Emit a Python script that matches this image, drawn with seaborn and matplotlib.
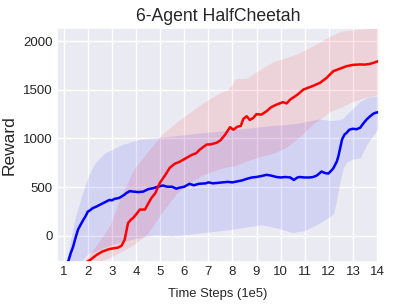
import numpy as np
import pandas as pd
import matplotlib
matplotlib.use("Agg")
import matplotlib.pyplot as plt
import seaborn as sns

# ---- data ----
title = "6-Agent HalfCheetah"
xlabel = "Time Steps (1e5)"
ylabel = "Reward"
xticks = list(range(1, 15))
yticks = [0, 500, 1000, 1500, 2000]

blue_x = [1.15, 1.2, 1.3, 1.39, 1.5, 1.6, 1.66, 1.8, 1.9, 2.0, 2.1, 2.2, 2.36, 2.5, 2.7, 2.9,
          3.0, 3.1, 3.3, 3.5, 3.6, 3.74, 3.9, 4.1, 4.3, 4.5, 4.71, 4.9, 5.12, 5.3, 5.5, 5.67,
          5.8, 6.0, 6.22, 6.4, 6.6, 6.9, 7.0, 7.19, 7.4, 7.6, 7.8, 8.0, 8.2, 8.4, 8.58, 8.8,
          9.0, 9.2, 9.42, 9.6, 9.83, 10.0, 10.2, 10.4, 10.55, 10.7, 10.8, 11.0, 11.2, 11.35,
          11.5, 11.7, 11.85, 11.98, 12.1, 12.19, 12.33, 12.4, 12.47, 12.55, 12.65, 12.74,
          12.85, 13.0, 13.15, 13.3, 13.45, 13.57, 13.7, 13.85, 13.95, 14.06]
blue_y = [-290, -250, -170, -110, -10, 70, 97, 160, 200, 250, 265, 285, 302, 320, 345, 370,
          365, 380, 390, 420, 440, 460, 455, 450, 455, 480, 490, 505, 518, 505, 505, 485,
          495, 505, 535, 520, 535, 540, 550, 540, 545, 550, 555, 550, 560, 570, 585, 600,
          605, 615, 627, 620, 605, 600, 605, 600, 575, 600, 605, 600, 600, 605,
          620, 661, 645, 640, 670, 695, 763, 820, 900, 990, 1040, 1058,
          1090, 1100, 1095, 1110, 1160, 1195, 1225, 1255, 1265, 1270]

red_x = [1.94, 2.1, 2.36, 2.6, 2.91, 3.1, 3.25, 3.4, 3.53, 3.6, 3.67, 3.8, 3.88, 4.0, 4.16,
         4.37, 4.5, 4.64, 4.8, 4.99, 5.2, 5.4, 5.6, 5.8, 6.1, 6.3, 6.5, 6.65, 6.93, 7.1, 7.34,
         7.5, 7.7, 7.9, 8.04, 8.2, 8.35, 8.45, 8.59, 8.72, 8.86, 9.0, 9.2, 9.42, 9.6, 9.84,
         10.1, 10.25, 10.4, 10.7, 10.95, 11.3, 11.64, 11.9, 12.19, 12.5, 12.74, 13.0, 13.3,
         13.5, 13.7, 13.9, 14.06]
red_y = [-270, -245, -195, -160, -133, -125, -120, -100, -37, 50, 134, 170, 185, 220, 271,
         271, 330, 390, 440, 545, 620, 699, 740, 760, 802, 830, 850, 887, 938, 940, 956,
         980, 1040, 1116, 1090, 1120, 1130, 1200, 1229, 1190, 1210, 1250, 1245, 1280, 1320, 1349,
         1373, 1360, 1400, 1450, 1503, 1535, 1572, 1620, 1691, 1720, 1742, 1755, 1760,
         1758, 1765, 1780, 1794]

blue_band_x = [1.0, 1.2, 1.46, 1.73, 2.0, 2.3, 2.7, 3.4, 4.1, 4.8, 5.5, 6.1, 7.0, 7.5, 8.0,
               8.8, 9.2, 9.7, 10.1, 10.5, 11.0, 11.6, 12.05, 12.2, 12.33, 12.47, 12.6, 12.75,
               13.0, 13.3, 13.6, 14.1]
blue_upper = [-350, -150, 170, 400, 600, 750, 850, 935, 990, 1007, 1025, 1041, 1065, 1075, 1090,
              1110, 1120, 1135, 1140, 1150, 1170, 1200, 1185, 1185, 1190, 1195, 1210, 1250,
              1310, 1380, 1420, 1440]
blue_lower = [-450, -400, -330, -260, -185, -160, -115, -60, -20, 12, 0, 15, 40, 55, 70,
              100, 115, 90, 65, 35, 55, 130, 200, 230, 380, 560, 700, 760,
              790, 800, 950, 1120]

red_band_x = [1.7, 2.2, 2.9, 3.4, 3.9, 4.5, 5.1, 5.7, 6.3, 6.8, 7.5, 7.8, 8.0, 8.1, 8.6, 9.1,
              9.7, 10.25, 10.8, 11.35, 12.05, 12.5, 13.0, 13.5, 14.1]
red_upper = [-300, -150, 100, 420, 680, 870, 1050, 1170, 1280, 1370, 1470, 1500, 1560, 1610,
             1620, 1700, 1790, 1830, 1880, 1950, 2050, 2100, 2115, 2125, 2135]
red_lower = [-330, -300, -220, -160, -90, 30, 250, 440, 560, 630, 690, 710, 716, 720, 770, 810,
             850, 910, 1020, 1150, 1275, 1320, 1380, 1420, 1450]

# ---- plot ----
sns.set_theme(style="darkgrid")
plt.rcParams["font.family"] = ["Liberation Sans", "DejaVu Sans"]

fig = plt.figure(figsize=(4.07, 3.05), dpi=100)
ax = fig.add_axes([0.140, 0.141, 0.791, 0.767])

ax.fill_between(blue_band_x, blue_lower, blue_upper, color="blue", alpha=0.1, linewidth=0)
ax.fill_between(red_band_x, red_lower, red_upper, color="red", alpha=0.1, linewidth=0)

df_b = pd.DataFrame({"x": blue_x, "y": blue_y})
df_r = pd.DataFrame({"x": red_x, "y": red_y})
sns.lineplot(data=df_b, x="x", y="y", color="blue", linewidth=1.8, ax=ax)
sns.lineplot(data=df_r, x="x", y="y", color="red", linewidth=1.8, ax=ax)

ax.set_xlim(0.72, 14.08)
ax.set_ylim(-267, 2133)
ax.set_xticks(xticks)
ax.set_yticks(yticks)
ax.tick_params(axis="both", length=0, labelsize=9.5)
ax.tick_params(axis="y", pad=3)
ax.tick_params(axis="x", pad=3)
ax.set_title(title, fontsize=12.7, pad=5)
ax.set_xlabel(xlabel, fontsize=9.4, labelpad=7)
ax.set_ylabel(ylabel, fontsize=12.5, labelpad=5)

fig.savefig("out.png", dpi=100)
